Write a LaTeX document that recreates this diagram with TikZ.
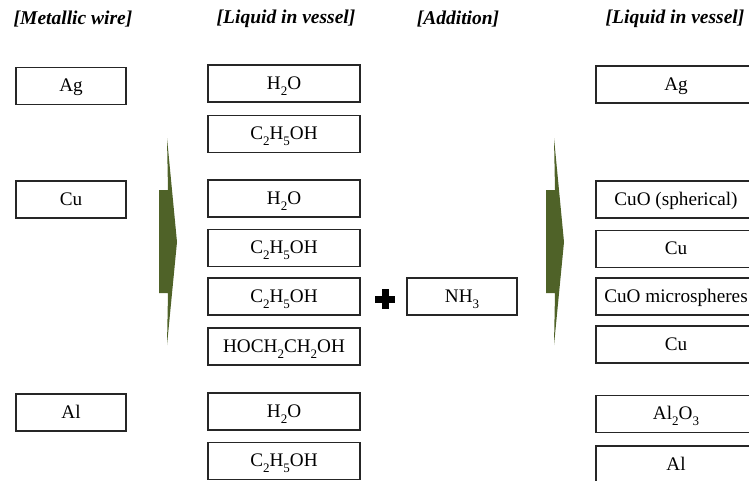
\documentclass[tikz,border=0pt]{standalone}
\usepackage{fontspec}
\setmainfont{Liberation Serif}
\definecolor{olivearrow}{RGB}{79,98,40}
\newcommand\chs[1]{\raisebox{-0.32em}[0pt][0pt]{\fontsize{13}{13}\selectfont #1}}
\begin{document}
\begin{tikzpicture}[x=1pt,y=-1pt,
  box/.style={draw=black!85,line width=1.3pt,inner sep=0pt,minimum height=37pt,
    text height=12pt,text depth=1pt,
    font=\fontsize{19.2}{20}\selectfont},
  wbox/.style={box,minimum width=110pt},
  lbox/.style={box,minimum width=152pt},
  rbox/.style={box,minimum width=160pt},
  head/.style={font=\fontsize{19.5}{20}\selectfont\bfseries\itshape,inner sep=0pt},
  bigarrow/.style={fill=olivearrow,draw=none}]
\useasboundingbox (0,0) rectangle (749,480);
\clip (0,0) rectangle (749,480);
% headers
\node[head] (h1) at (73,19) {[Metallic wire]};
\node[head] (h2) at (286,19) {[Liquid in vessel]};
\node[head] (h3) at (458,19) {[Addition]};
\node[head] (h4) at (675,19) {[Liquid in vessel]};
% metallic wires
\node[wbox] (wAg) at (71,86) {Ag};
\node[wbox] (wCu) at (71,199.5) {Cu};
\node[wbox] (wAl) at (71,412.5) {Al};
% liquids
\node[lbox] (l1) at (284,83.5) {H\chs{2}O};
\node[lbox] (l2) at (284,134) {C\chs{2}H\chs{5}OH};
\node[lbox] (l3) at (284,198.5) {H\chs{2}O};
\node[lbox] (l4) at (284,248) {C\chs{2}H\chs{5}OH};
\node[lbox] (l5) at (284,296.5) {C\chs{2}H\chs{5}OH};
\node[lbox] (l6) at (284,346.5) {HOCH\chs{2}CH\chs{2}OH};
\node[lbox] (l7) at (284,411.5) {H\chs{2}O};
\node[lbox] (l8) at (284,461) {C\chs{2}H\chs{5}OH};
% addition
\node[wbox] (nh3) at (462,296.5) {NH\chs{3}};
\fill (375,295.5) rectangle (395,302.5);
\fill (381.5,289) rectangle (388.5,309);
% results
\node[rbox] (r1) at (676,84.5) {Ag};
\node[rbox] (r2) at (676,199.5) {CuO (spherical)};
\node[rbox] (r3) at (676,249) {Cu};
\node[rbox] (r4) at (676,296.5) {CuO microspheres};
\node[rbox] (r5) at (676,344.5) {Cu};
\node[rbox] (r6) at (676,414) {Al\chs{2}O\chs{3}};
\node[rbox] (r7) at (676,464.5) {Al};
% big arrows
\fill[bigarrow] (159,190) -- (168,190) -- (167,138) -- (177,242) -- (167,345) -- (168,293) -- (159,293) -- cycle;
\fill[bigarrow] (546,190) -- (555,190) -- (554,138) -- (564,242) -- (554,345) -- (555,293) -- (546,293) -- cycle;
\end{tikzpicture}
\end{document}
